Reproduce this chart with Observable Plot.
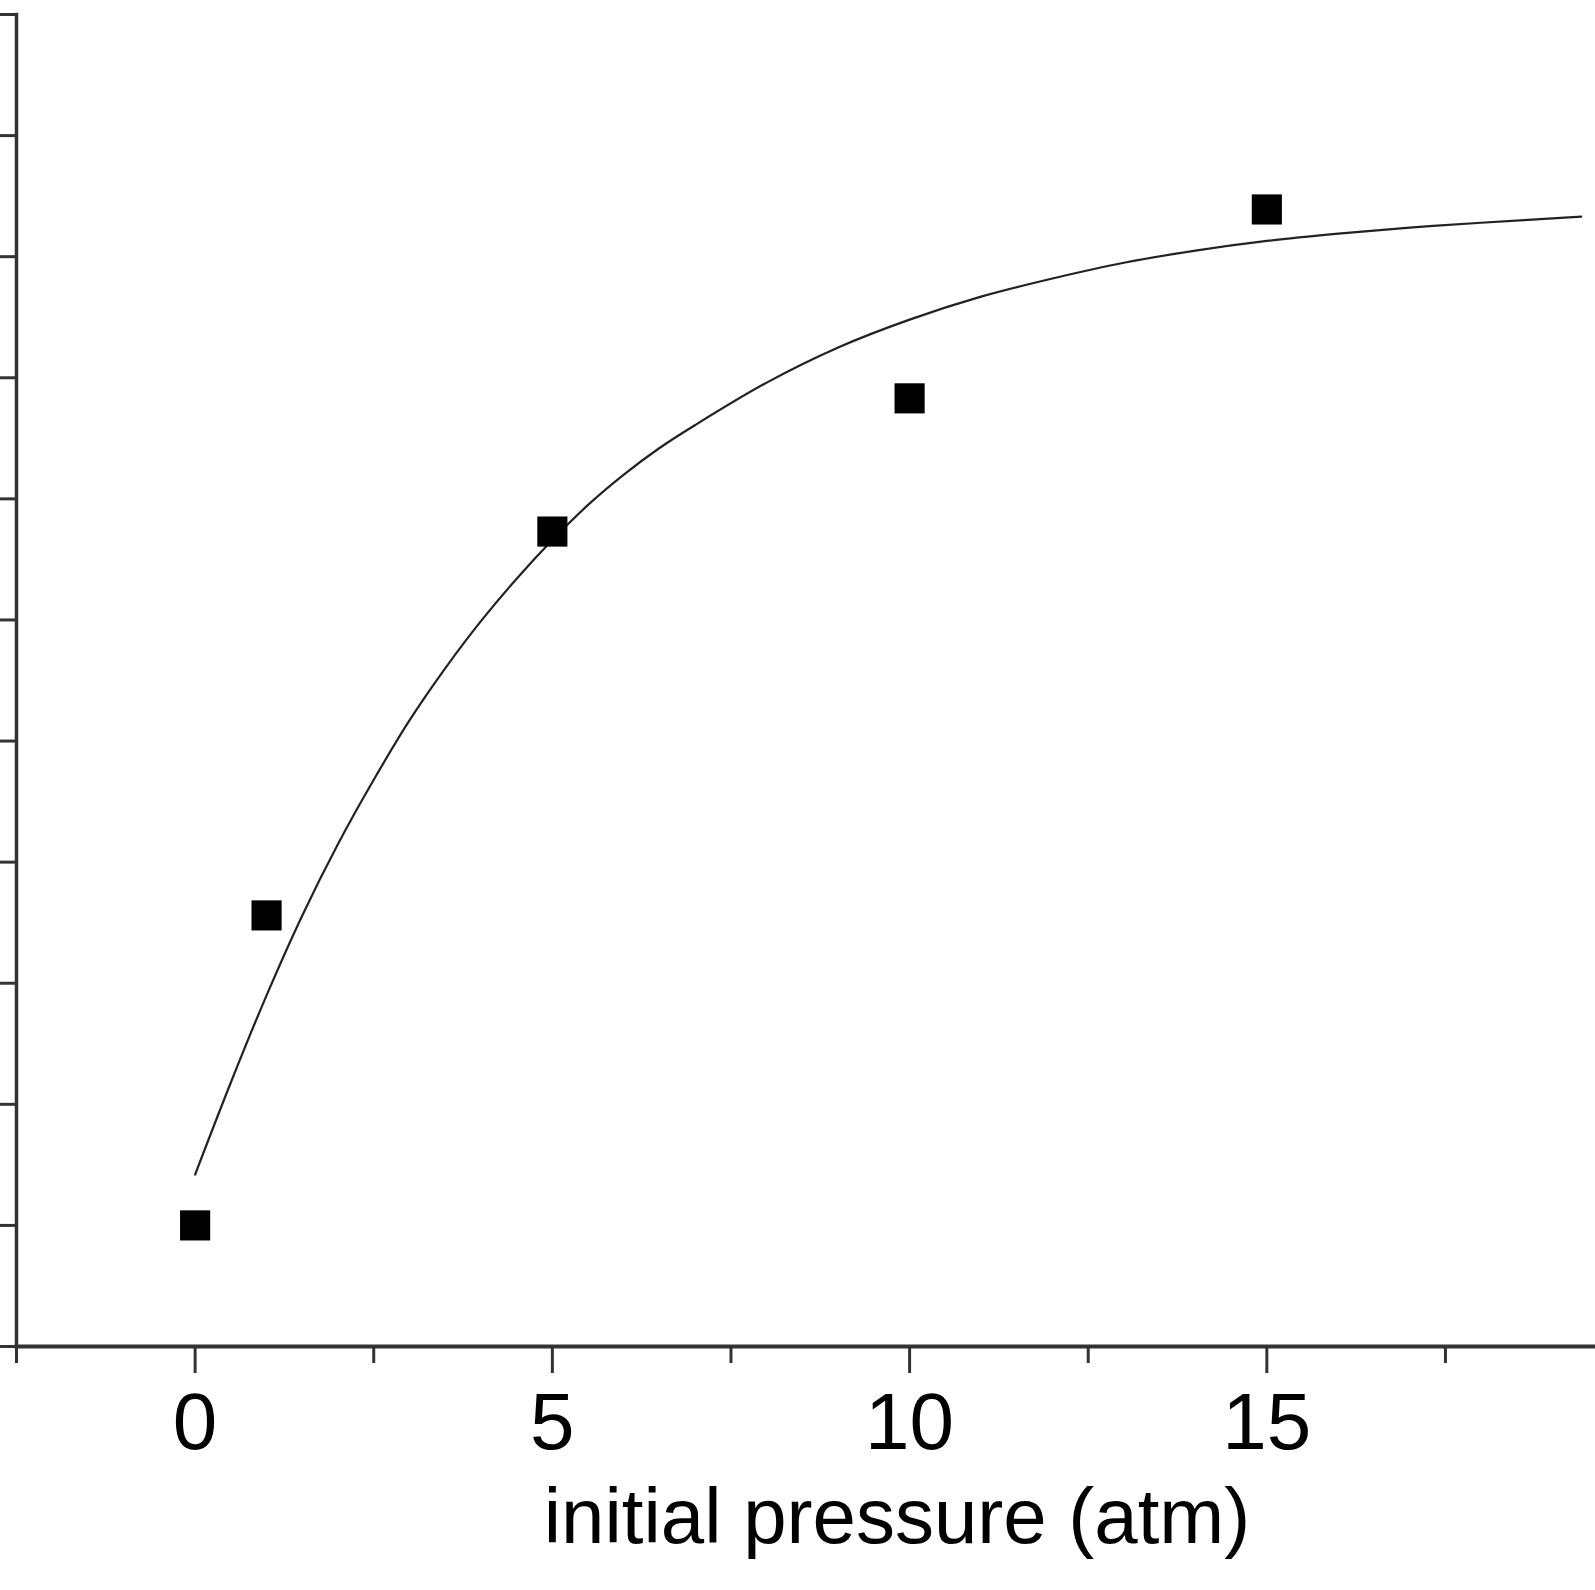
<!DOCTYPE html>
<html>
<head>
<meta charset="utf-8">
<script src="https://cdn.jsdelivr.net/npm/d3@7"></script>
<script src="https://cdn.jsdelivr.net/npm/@observablehq/plot@0.6"></script>
<style>
  html, body { margin: 0; padding: 0; background: #fff; overflow: hidden; }
  #chart svg { display: block; }
</style>
</head>
<body>
<div id="chart"></div>
<script>
// Measured points (initial pressure in atm, response in axis units; y tick spacing = 1)
const pressure = [0, 1, 5, 10, 15];
const measured = [1.0, 3.56, 6.73, 7.83, 9.39];

// Fitted curve at these x positions
const curveX = [0, 0.5, 1, 1.5, 2, 2.5, 3, 3.5, 4, 4.5, 5, 5.5, 6, 6.5, 7, 8, 9, 10, 11, 12, 13, 14, 15, 16, 17, 18, 19.4];
const curveY = [1.42, 2.18, 2.90, 3.56, 4.15, 4.68, 5.17, 5.60, 5.99, 6.34, 6.66, 6.95, 7.20, 7.42, 7.61, 7.96, 8.25, 8.48, 8.67, 8.82, 8.95, 9.05, 9.13, 9.19, 9.24, 9.28, 9.33];

const majorTicks = [0, 5, 10, 15];
const minorTicks = [-2.5, 2.5, 7.5, 12.5, 17.5];
const yTicks = [0, 1, 2, 3, 4, 5, 6, 7, 8, 9, 10, 11];
const xLabel = "initial pressure (atm)";

const points = pressure.map((x, i) => ({x, y: measured[i]}));
const curve = curveX.map((x, i) => ({x, y: curveY[i]}));

const axisColor = "#333";

const chart = Plot.plot({
  width: 1595,
  height: 1590,
  marginTop: 14,
  marginBottom: 244,
  marginLeft: 16,
  marginRight: 0,
  style: {background: "#fff", fontFamily: "'Liberation Sans', Arial, sans-serif", color: "#000"},
  x: {domain: [-2.5, 19.6], axis: null},
  y: {domain: [0, 11], axis: null},
  marks: [
    Plot.line(curve, {x: "x", y: "y", curve: "catmull-rom", stroke: "#222", strokeWidth: 2.2}),
    Plot.dot(points, {x: "x", y: "y", symbol: "square", r: 17, fill: "#000", stroke: "none"}),
    Plot.axisY(yTicks, {anchor: "left", tickSize: 16, tickFormat: () => "", stroke: axisColor, strokeWidth: 3, label: null}),
    Plot.axisX(minorTicks, {anchor: "bottom", tickSize: 17, tickFormat: () => "", stroke: axisColor, strokeWidth: 3, label: null}),
    Plot.axisX(majorTicks, {anchor: "bottom", tickSize: 27, tickPadding: 19, fontSize: 80, fill: "#000", stroke: axisColor, strokeWidth: 3, label: null}),
    Plot.frame({anchor: "left", stroke: axisColor, strokeWidth: 3.5}),
    Plot.frame({anchor: "bottom", stroke: axisColor, strokeWidth: 4}),
    Plot.text([xLabel], {frameAnchor: "bottom", lineAnchor: "bottom", dy: 196, dx: 91, fontSize: 78, fill: "#000"})
  ]
});

document.getElementById("chart").appendChild(chart);
</script>
</body>
</html>
